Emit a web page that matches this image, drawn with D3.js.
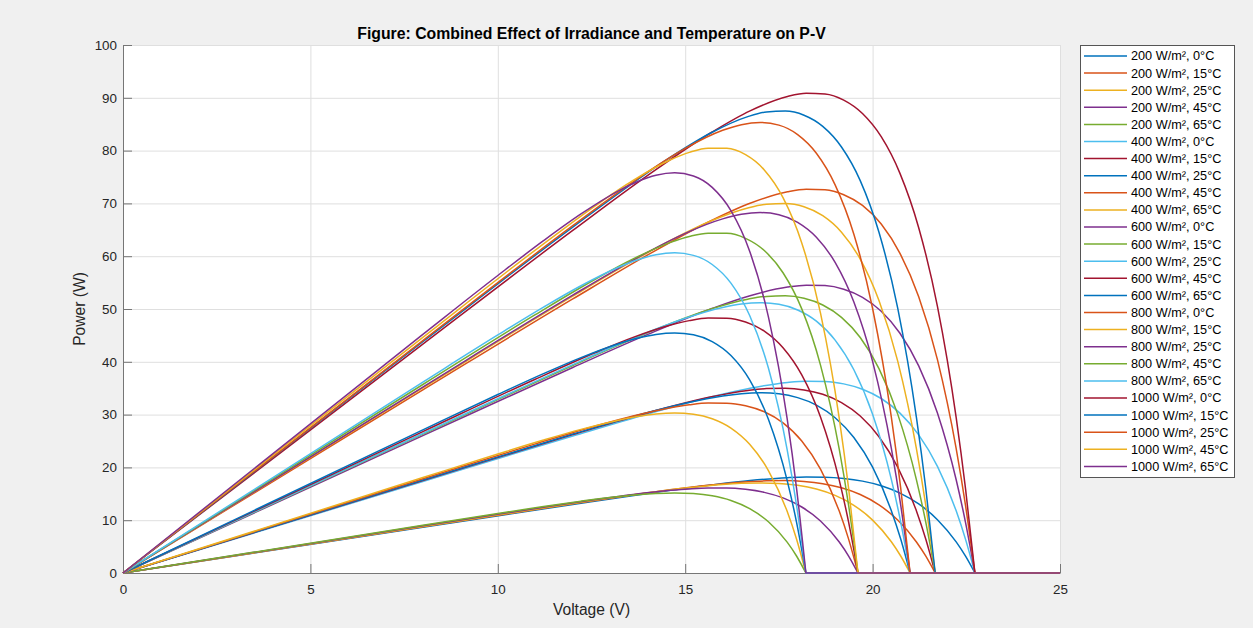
<!DOCTYPE html>
<html>
<head>
<meta charset="utf-8">
<script src="https://cdn.jsdelivr.net/npm/d3@7"></script>
<style>
body { margin: 0; background: #f0f0f0; }
svg { display: block; font-family: "Liberation Sans", Arial, sans-serif; }
</style>
</head>
<body>
<div id="chart"></div>
<script>
// categories
const irradiance = [200, 400, 600, 800, 1000];
const temperature = [0, 15, 25, 45, 65];
const xTicks = [0, 5, 10, 15, 20, 25];
const yTicks = [0, 10, 20, 30, 40, 50, 60, 70, 80, 90, 100];

// voltage samples (V) for each temperature
const voltage0C  = [0, 8, 12, 14, 15.73, 16.73, 17.73, 18.23, 18.73, 19.23, 19.73, 20.23, 20.73, 21.23, 21.73, 22.23, 22.48, 22.73, 25];
const voltage15C = [0, 8, 12, 13.5, 14.67, 15.67, 16.67, 17.17, 17.67, 18.17, 18.67, 19.17, 19.67, 20.17, 20.67, 21.17, 21.42, 21.67, 25];
const voltage25C = [0, 8, 12, 13, 14, 15, 16, 16.5, 17, 17.5, 18, 18.5, 19, 19.5, 20, 20.5, 20.75, 21, 25];
const voltage45C = [0, 8, 11, 12.61, 13.61, 14.61, 15.11, 15.61, 16.11, 16.61, 17.11, 17.61, 18.11, 18.61, 19.11, 19.36, 19.61, 25];
const voltage65C = [0, 8, 10, 11.22, 12.22, 13.22, 13.72, 14.22, 14.72, 15.22, 15.72, 16.22, 16.72, 17.22, 17.72, 17.97, 18.22, 25];

// power (W), one row per temperature: 0, 15, 25, 45, 65 °C
const power200 = [
  [0, 8.67, 12.98, 15.06, 16.71, 17.51, 18.05, 18.17, 18.14, 17.91, 17.40, 16.53, 15.14, 13.08, 10.10, 5.89, 3.18, 0, 0],
  [0, 8.76, 13.10, 14.67, 15.81, 16.66, 17.29, 17.46, 17.50, 17.34, 16.92, 16.14, 14.86, 12.91, 10.03, 5.88, 3.19, 0, 0],
  [0, 8.80, 13.16, 14.20, 15.19, 16.08, 16.77, 16.98, 17.06, 16.96, 16.61, 15.90, 14.70, 12.83, 10.02, 5.91, 3.22, 0, 0],
  [0, 8.93, 12.23, 13.92, 14.87, 15.65, 15.93, 16.09, 16.09, 15.84, 15.27, 14.22, 12.50, 9.85, 5.86, 3.21, 0, 0],
  [0, 9.04, 11.27, 12.59, 13.60, 14.48, 14.82, 15.06, 15.16, 15.04, 14.61, 13.73, 12.19, 9.70, 5.84, 3.22, 0, 0]
];
const power400 = [
  [0, 17.34, 25.95, 30.12, 33.43, 35.01, 36.10, 36.34, 36.29, 35.82, 34.81, 33.05, 30.28, 26.16, 20.20, 11.77, 6.37, 0, 0],
  [0, 17.53, 26.21, 29.34, 31.62, 33.32, 34.57, 34.92, 34.99, 34.68, 33.84, 32.28, 29.73, 25.81, 20.06, 11.76, 6.38, 0, 0],
  [0, 17.61, 26.31, 28.40, 30.39, 32.16, 33.54, 33.96, 34.13, 33.93, 33.21, 31.80, 29.41, 25.66, 20.04, 11.81, 6.43, 0, 0],
  [0, 17.85, 24.46, 27.84, 29.74, 31.31, 31.86, 32.18, 32.17, 31.69, 30.54, 28.44, 25.01, 19.69, 11.72, 6.41, 0, 0],
  [0, 18.08, 22.54, 25.18, 27.20, 28.95, 29.64, 30.13, 30.32, 30.08, 29.22, 27.45, 24.38, 19.41, 11.69, 6.44, 0, 0]
];
const power600 = [
  [0, 26.01, 38.93, 45.19, 50.14, 52.52, 54.16, 54.52, 54.43, 53.74, 52.21, 49.58, 45.41, 39.24, 30.31, 17.66, 9.55, 0, 0],
  [0, 26.29, 39.31, 44.00, 47.42, 49.97, 51.86, 52.39, 52.49, 52.02, 50.75, 48.41, 44.59, 38.72, 30.09, 17.65, 9.58, 0, 0],
  [0, 26.41, 39.47, 42.61, 45.58, 48.25, 50.30, 50.95, 51.19, 50.89, 49.82, 47.70, 44.11, 38.49, 30.05, 17.72, 9.65, 0, 0],
  [0, 26.78, 36.70, 41.76, 44.62, 46.96, 47.80, 48.28, 48.26, 47.53, 45.80, 42.65, 37.51, 29.54, 17.58, 9.62, 0, 0],
  [0, 27.12, 33.81, 37.76, 40.80, 43.43, 44.46, 45.19, 45.47, 45.12, 43.82, 41.18, 36.57, 29.11, 17.53, 9.65, 0, 0]
];
const power800 = [
  [0, 34.68, 51.90, 60.25, 66.86, 70.02, 72.21, 72.69, 72.58, 71.65, 69.62, 66.10, 60.55, 52.32, 40.41, 23.54, 12.74, 0, 0],
  [0, 35.06, 52.42, 58.67, 63.23, 66.63, 69.14, 69.85, 69.98, 69.36, 67.67, 64.55, 59.46, 51.62, 40.12, 23.53, 12.77, 0, 0],
  [0, 35.22, 52.62, 56.81, 60.78, 64.33, 67.07, 67.93, 68.26, 67.86, 66.42, 63.60, 58.82, 51.32, 40.07, 23.62, 12.86, 0, 0],
  [0, 35.70, 48.93, 55.68, 59.49, 62.62, 63.73, 64.37, 64.34, 63.38, 61.07, 56.87, 50.02, 39.38, 23.44, 12.82, 0, 0],
  [0, 36.16, 45.08, 50.35, 54.40, 57.90, 59.28, 60.26, 60.63, 60.16, 58.43, 54.90, 48.76, 38.82, 23.38, 12.87, 0, 0]
];
const power1000 = [
  [0, 43.35, 64.88, 75.31, 83.57, 87.53, 90.26, 90.86, 90.72, 89.56, 87.02, 82.63, 75.69, 65.40, 50.51, 29.43, 15.92, 0, 0],
  [0, 43.82, 65.52, 73.34, 79.04, 83.29, 86.43, 87.31, 87.48, 86.70, 84.59, 80.69, 74.32, 64.53, 50.15, 29.41, 15.96, 0, 0],
  [0, 44.02, 65.78, 71.01, 75.97, 80.41, 83.84, 84.91, 85.32, 84.82, 83.03, 79.50, 73.52, 64.15, 50.09, 29.53, 16.08, 0, 0],
  [0, 44.63, 61.16, 69.60, 74.36, 78.27, 79.66, 80.46, 80.43, 79.22, 76.34, 71.09, 62.52, 49.23, 29.30, 16.03, 0, 0],
  [0, 45.20, 56.35, 62.94, 68.00, 72.38, 74.10, 75.32, 75.79, 75.20, 73.04, 68.63, 60.95, 48.52, 29.22, 16.09, 0, 0]
];

const voltages = [voltage0C, voltage15C, voltage25C, voltage45C, voltage65C];
const powers = [power200, power400, power600, power800, power1000];
// MATLAB default color order
const colorOrder = ["#0072BD", "#D95319", "#EDB120", "#7E2F8E", "#77AC30", "#4DBEEE", "#A2142F"];

var width = 1253
var height = 628
const svg = d3.select("#chart")
    .append("svg")
    .attr("width", width)
    .attr("height", height);

const x = d3.scaleLinear().domain([0, 25]).range([123, 1060]);
const y = d3.scaleLinear().domain([0, 100]).range([573, 45]);

// plot area
svg.append("rect")
    .attr("x", x(0)).attr("y", y(100))
    .attr("width", x(25) - x(0)).attr("height", y(0) - y(100))
    .attr("fill", "#fff");

// grid
svg.append("g")
    .attr("transform", "translate(0," + y(0) + ")")
    .call(d3.axisBottom(x).tickValues(xTicks).tickSize(-(y(0) - y(100))).tickFormat(""))
    .call(g => g.select(".domain").remove())
    .selectAll("line").attr("stroke", "#dfdfdf");
svg.append("g")
    .attr("transform", "translate(" + x(0) + ",0)")
    .call(d3.axisLeft(y).tickValues(yTicks).tickSize(-(x(25) - x(0))).tickFormat(""))
    .call(g => g.select(".domain").remove())
    .selectAll("line").attr("stroke", "#dfdfdf");

// axes, ticks pointing inward
const xAxis = svg.append("g")
    .attr("transform", "translate(0," + y(0) + ")")
    .call(d3.axisBottom(x).tickValues(xTicks).tickSizeInner(-9).tickSizeOuter(0).tickPadding(11));
const yAxis = svg.append("g")
    .attr("transform", "translate(" + x(0) + ",0)")
    .call(d3.axisLeft(y).tickValues(yTicks).tickSizeInner(-9).tickSizeOuter(0).tickPadding(6));
[xAxis, yAxis].forEach(function(g) {
    g.select(".domain").attr("stroke", "#767676");
    g.selectAll(".tick line").attr("stroke", "#767676");
    g.selectAll(".tick text")
        .attr("fill", "#262626")
        .style("font-size", "13.4px")
        .style("font-family", "'Liberation Sans', Arial, sans-serif");
});

// curves
const line = d3.line()
    .x(d => x(d[0]))
    .y(d => y(d[1]))
    .curve(d3.curveMonotoneX);

const series = [];
irradiance.forEach(function(g, gi) {
    temperature.forEach(function(t, ti) {
        const pts = voltages[ti].map((v, k) => [v, powers[gi][ti][k]]);
        series.push({
            label: g + " W/m\u00B2, " + t + "\u00B0C",
            points: pts,
            color: colorOrder[series.length % colorOrder.length]
        });
    });
});

svg.append("g")
    .selectAll("path")
    .data(series)
    .enter()
    .append("path")
    // smooth part up to Voc, then a straight zero segment out to 25 V
    .attr("d", function(d) {
        const n = d.points.length;
        const last = d.points[n - 1];
        return line(d.points.slice(0, n - 1)) + "L" + x(last[0]) + "," + y(last[1]);
    })
    .attr("fill", "none")
    .attr("stroke", d => d.color)
    .attr("stroke-width", 1.5)
    .attr("stroke-linejoin", "round");

// title and axis labels
svg.append("text")
    .attr("x", (x(0) + x(25)) / 2).attr("y", 33).attr("dy", "0.35em")
    .attr("text-anchor", "middle")
    .style("font-size", "15.8px").style("font-weight", "bold")
    .attr("fill", "#000")
    .text("Figure: Combined Effect of Irradiance and Temperature on P-V");
svg.append("text")
    .attr("x", (x(0) + x(25)) / 2).attr("y", 610).attr("dy", "0.35em")
    .attr("text-anchor", "middle")
    .style("font-size", "15.6px")
    .attr("fill", "#262626")
    .text("Voltage (V)");
svg.append("text")
    .attr("transform", "translate(80," + (y(0) + y(100)) / 2 + ") rotate(-90)")
    .attr("dy", "0.35em")
    .attr("text-anchor", "middle")
    .style("font-size", "15.6px")
    .attr("fill", "#262626")
    .text("Power (W)");

// legend
const legend = svg.append("g");
legend.append("rect")
    .attr("x", 1080.5).attr("y", 45.5)
    .attr("width", 154).attr("height", 432)
    .attr("fill", "#fff")
    .attr("stroke", "#555");
const rows = legend.selectAll("g.row")
    .data(series)
    .enter()
    .append("g")
    .attr("class", "row")
    .attr("transform", (d, i) => "translate(0," + (56 + i * 17.1) + ")");
rows.append("line")
    .attr("x1", 1084).attr("x2", 1127)
    .attr("stroke", d => d.color)
    .attr("stroke-width", 1.5);
rows.append("text")
    .attr("x", 1131).attr("dy", "0.35em")
    .style("font-size", "12.7px")
    .attr("fill", "#000")
    .text(d => d.label);
</script>
</body>
</html>
